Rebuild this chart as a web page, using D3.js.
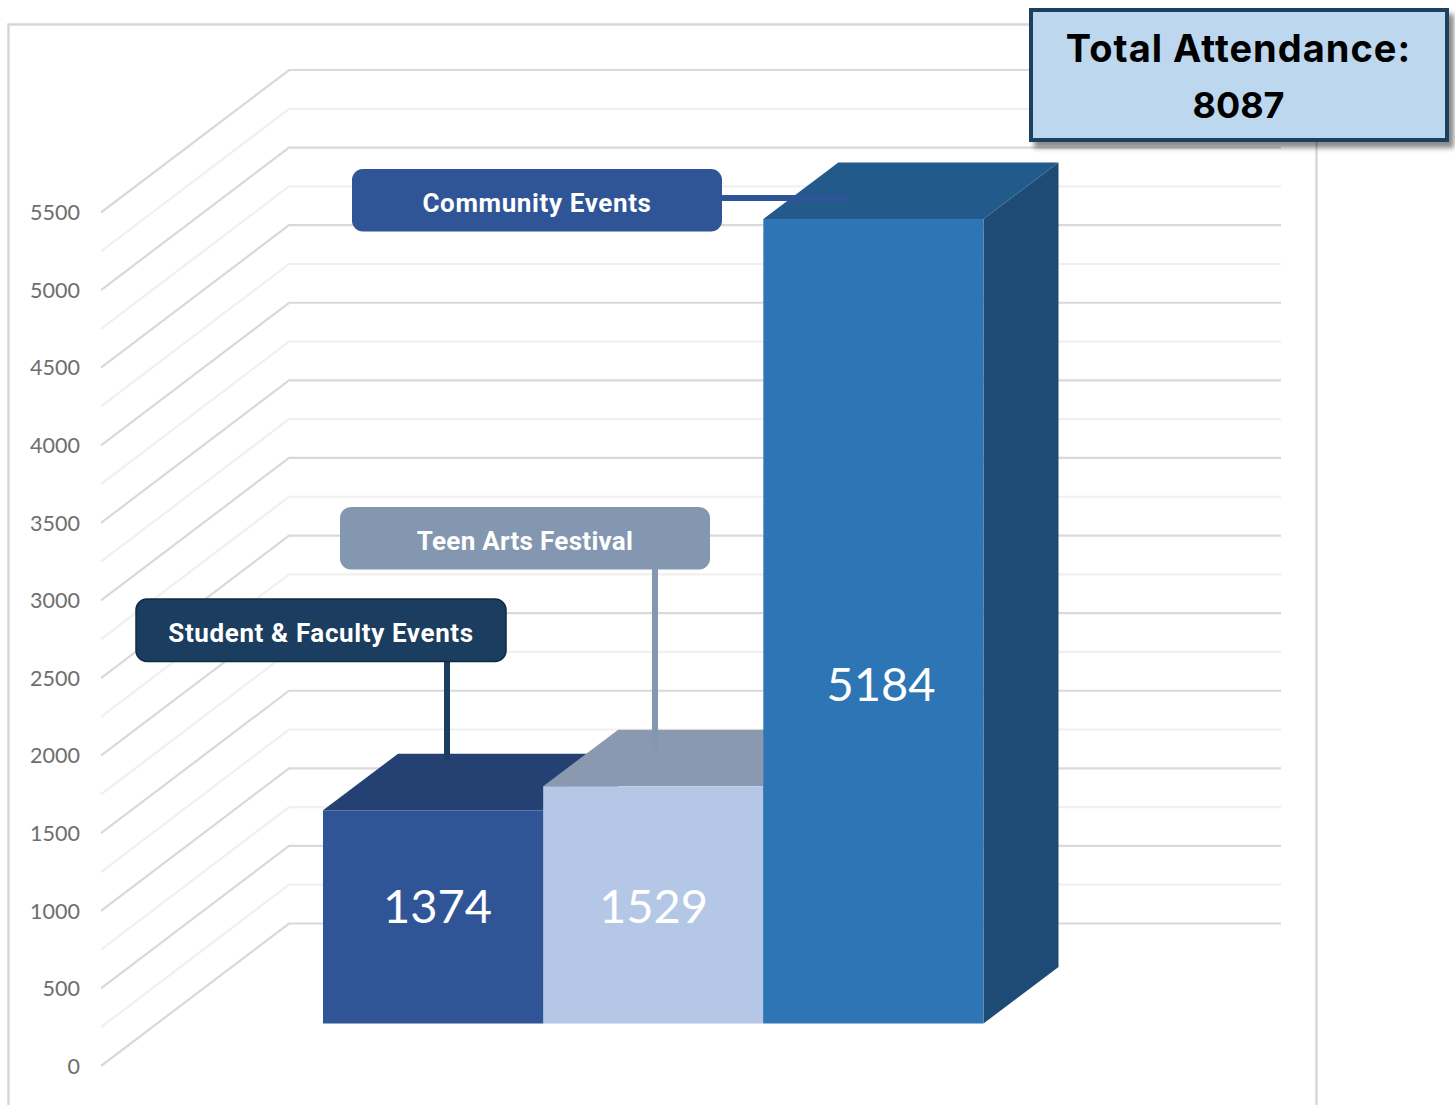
<!DOCTYPE html>
<html><head><meta charset="utf-8">
<style>html,body{margin:0;padding:0;background:#fff;overflow:hidden}svg{display:block}</style>
<script src="https://cdn.jsdelivr.net/npm/d3@7"></script></head>
<body><svg id="c" width="1455" height="1105"></svg>
<script>
const categories = ["Student & Faculty Events", "Teen Arts Festival", "Community Events"];
const attendance = [1374, 1529, 5184];
const majorTicks = [0, 500, 1000, 1500, 2000, 2500, 3000, 3500, 4000, 4500, 5000, 5500];
const minorTicks = [250, 750, 1250, 1750, 2250, 2750, 3250, 3750, 4250, 4750, 5250];
const frontColors = ["#2F5597", "#B4C7E7", "#2E75B6"];
const topColors = ["#254173", "#8A99AF", "#225A8B"];
const sideColors = ["#1D4B75", "#1D4B75", "#1D4B75"];
const calloutColors = ["#1B3D5F", "#8497B0", "#2F5597"];
const totalLabel = ["Total Attendance:", "8087"];

const svg = d3.select("#c");
const yBack = d3.scaleLinear().domain([0, 5500]).range([923.5, 70]);
const yFront = d3.scaleLinear().domain([0, 5500]).range([1066, 212.5]);
const yBar = d3.scaleLinear().domain([0, 5500]).range([1023.5, 170]);
const x = d3.scaleBand().domain(categories).range([323, 983.5]);
const dx = 75, dy = -56.5;

svg.append("path").attr("d", "M8.5,1105V24.5H1316.5V1105")
  .attr("fill", "none").attr("stroke", "#d6d6d6").attr("stroke-width", 2.4);

function grid(vals, col, w) {
  svg.append("g").selectAll("path").data(vals).join("path")
    .attr("d", v => `M101,${yFront(v)}L289,${yBack(v)}H1281`)
    .attr("fill", "none").attr("stroke", col).attr("stroke-width", w);
}
grid(minorTicks, "#f0f0f0", 2.2);
grid(majorTicks, "#d9d9d9", 2.2);

const ax = svg.append("g").attr("transform", "translate(80,0)")
  .call(d3.axisLeft(yFront).tickValues(majorTicks).tickSize(0).tickPadding(0).tickFormat(d3.format("d")));
ax.select(".domain").remove();
ax.selectAll("text").attr("font-family", "Lato").attr("font-size", 21.5).attr("fill", "#6e6e6e").attr("dy", "0.34em");

const bars = svg.append("g").selectAll("g").data(attendance).join("g");
bars.append("path").attr("fill", (d, i) => sideColors[i])
  .attr("d", (d, i) => {
    const r = x(categories[i]) + x.bandwidth(), t = yBar(d), b = yBar(0);
    return `M${r},${t}l${dx},${dy}V${b + dy}L${r},${b}Z`;
  });
bars.append("path").attr("fill", (d, i) => topColors[i])
  .attr("d", (d, i) => {
    const l = x(categories[i]), t = yBar(d);
    return `M${l},${t}l${dx},${dy}h${x.bandwidth()}l${-dx},${-dy}Z`;
  });
bars.append("rect").attr("fill", (d, i) => frontColors[i])
  .attr("x", (d, i) => x(categories[i])).attr("width", x.bandwidth())
  .attr("y", d => yBar(d)).attr("height", d => yBar(0) - yBar(d));

const labelX = [437.5, 653.5, 881], labelBase = [923, 923, 701];
svg.append("g").selectAll("text").data(attendance).join("text")
  .attr("x", (d, i) => labelX[i]).attr("y", (d, i) => labelBase[i])
  .attr("text-anchor", "middle").attr("font-family", "Lato").attr("font-size", 47)
  .attr("fill", "#fff").text(d => d);

const boxX = [136, 340, 352], boxY = [599, 507, 169];
const spacing = [0.62, 0.3, 0.62];
const lead = [`M447,661V760`, `M655,569V750`, `M722,198H848`];
svg.append("g").selectAll("path").data(lead).join("path")
  .attr("d", d => d).attr("fill", "none").attr("stroke-width", 6)
  .attr("stroke", (d, i) => calloutColors[i]);
const cg = svg.append("g").selectAll("g").data(categories).join("g");
cg.append("rect").attr("x", (d, i) => boxX[i]).attr("y", (d, i) => boxY[i])
  .attr("width", 370).attr("height", 62.5).attr("rx", 11)
  .attr("fill", (d, i) => calloutColors[i])
  .attr("stroke", (d, i) => i === 0 ? "#0F2A45" : "none").attr("stroke-width", 1.5);
cg.append("text").attr("x", (d, i) => boxX[i] + 185).attr("y", (d, i) => boxY[i] + 43)
  .attr("text-anchor", "middle").attr("font-family", "Roboto").attr("font-weight", 700)
  .attr("letter-spacing", (d, i) => spacing[i])
  .attr("font-size", 26).attr("fill", "#fff").text(d => d);

const shadow = svg.append("defs").append("filter").attr("id", "sh")
  .attr("x", "-5%").attr("y", "-5%").attr("width", "112%").attr("height", "125%");
shadow.append("feDropShadow").attr("dx", 5).attr("dy", 6).attr("stdDeviation", 2.5)
  .attr("flood-color", "#000").attr("flood-opacity", 0.45);
svg.append("rect").attr("x", 1031).attr("y", 10).attr("width", 416).attr("height", 130)
  .attr("fill", "#BDD7EE").attr("stroke", "#1F3F5F").attr("stroke-width", 4).attr("filter", "url(#sh)");
const totalSize = [38, 36], totalSpacing = [1, 0];
svg.append("g").selectAll("text").data(totalLabel).join("text")
  .attr("x", 1238.5).attr("y", (d, i) => 62 + i * 56)
  .attr("text-anchor", "middle").attr("font-family", "Inter").attr("font-weight", 700)
  .attr("font-size", (d, i) => totalSize[i]).attr("letter-spacing", (d, i) => totalSpacing[i])
  .attr("fill", "#000").text(d => d);
</script></body></html>
